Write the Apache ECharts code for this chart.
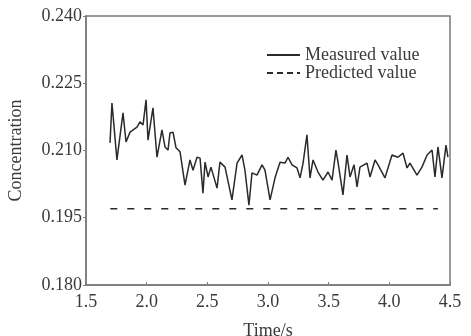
<!DOCTYPE html>
<html>
<head>
<meta charset="utf-8">
<script src="https://cdn.jsdelivr.net/npm/echarts@6/dist/echarts.min.js"></script>
<style>
  html, body { margin: 0; padding: 0; background: #fff; }
  #chart { width: 471px; height: 336px; }
</style>
</head>
<body>
<div id="chart"></div>
<script>
// measured concentration, [time, value]
const measuredTime = [
  1.698, 1.714, 1.755, 1.805, 1.830, 1.863, 1.920, 1.945, 1.970, 1.995,
  2.011, 2.052, 2.085, 2.126, 2.151, 2.176, 2.192, 2.217, 2.242, 2.275,
  2.316, 2.357, 2.382, 2.415, 2.440, 2.464, 2.481, 2.506, 2.530, 2.580,
  2.604, 2.646, 2.703, 2.745, 2.786, 2.810, 2.843, 2.868, 2.909, 2.951,
  2.975, 3.017, 3.058, 3.099, 3.140, 3.165, 3.198, 3.239, 3.264, 3.289,
  3.321, 3.346, 3.371, 3.412, 3.453, 3.495, 3.528, 3.560, 3.577, 3.618,
  3.651, 3.676, 3.709, 3.734, 3.758, 3.816, 3.841, 3.882, 3.907, 3.964,
  4.022, 4.071, 4.113, 4.146, 4.170, 4.228, 4.269, 4.311, 4.352, 4.376,
  4.401, 4.434, 4.467, 4.483
];
const measuredValue = [
  0.2117, 0.2206, 0.2079, 0.2184, 0.2119, 0.2141, 0.2152, 0.2164, 0.2157, 0.2213,
  0.2123, 0.2195, 0.2085, 0.2146, 0.2108, 0.2101, 0.2139, 0.2141, 0.2106, 0.2097,
  0.2023, 0.2079, 0.2056, 0.2085, 0.2083, 0.2005, 0.2074, 0.2041, 0.2063, 0.2016,
  0.2074, 0.2063, 0.1990, 0.2072, 0.2090, 0.2056, 0.1978, 0.2050, 0.2045, 0.2068,
  0.2056, 0.1990, 0.2039, 0.2074, 0.2072, 0.2085, 0.2068, 0.2061, 0.2039, 0.2072,
  0.2135, 0.2039, 0.2079, 0.2052, 0.2034, 0.2052, 0.2034, 0.2101, 0.2074, 0.2001,
  0.2090, 0.2041, 0.2068, 0.2019, 0.2063, 0.2072, 0.2041, 0.2079, 0.2068, 0.2039,
  0.2090, 0.2085, 0.2094, 0.2061, 0.2072, 0.2045, 0.2063, 0.2090, 0.2101, 0.2041,
  0.2108, 0.2039, 0.2112, 0.2085
];

// predicted value is a flat line
const predictedTime = [1.70, 4.40];
const predictedValue = [0.197, 0.197];

const seriesNames = ["Measured value", "Predicted value"];

const font = "Liberation Serif";
const axisGrey = "#7a7a7a";
const textColor = "#3a3a3a";
const fs = 18;

var chart = echarts.init(document.getElementById("chart"));

var option = {
  animation: false,
  textStyle: { fontFamily: font },
  grid: {
    left: 86,
    right: 21,
    top: 16,
    bottom: 51,
    outerBoundsMode: "none",
    containLabel: false,
    show: true,
    borderColor: axisGrey,
    borderWidth: 1.5,
  },
  legend: {
    orient: "vertical",
    left: 261,
    top: 41,
    itemWidth: 33,
    itemHeight: 10,
    itemGap: 0,
    itemStyle: { opacity: 0 },
    textStyle: { fontFamily: font, fontSize: fs, color: textColor },
    data: [
      { name: seriesNames[0] },
      { name: seriesNames[1], lineStyle: { type: [6, 4] } },
    ],
  },
  xAxis: {
    type: "value",
    min: 1.5,
    max: 4.5,
    interval: 0.5,
    name: "Time/s",
    nameLocation: "middle",
    nameGap: 37,
    nameTextStyle: { fontFamily: font, fontSize: fs, color: textColor },
    axisLine: { lineStyle: { color: axisGrey, width: 1.5 } },
    axisTick: { inside: true, length: 3, lineStyle: { color: axisGrey } },
    axisLabel: {
      fontFamily: font,
      fontSize: fs,
      color: textColor,
      margin: 8,
      formatter: (v) => v.toFixed(1),
    },
    splitLine: { show: false },
  },
  yAxis: {
    type: "value",
    min: 0.18,
    max: 0.24,
    interval: 0.015,
    name: "Concentration",
    nameLocation: "middle",
    nameGap: 61,
    nameTextStyle: { fontFamily: font, fontSize: fs, color: textColor },
    axisLine: { lineStyle: { color: axisGrey, width: 1.5 } },
    axisTick: { inside: false, length: 3, lineStyle: { color: axisGrey } },
    axisLabel: {
      fontFamily: font,
      fontSize: fs,
      color: textColor,
      margin: 4,
      formatter: (v) => v.toFixed(3),
    },
    splitLine: { show: false },
  },
  series: [
    {
      name: seriesNames[0],
      type: "line",
      showSymbol: false,
      data: measuredTime.map((t, i) => [t, measuredValue[i]]),
      lineStyle: { color: "#2a2a2a", width: 1.5 },
      itemStyle: { color: "#2a2a2a" },
    },
    {
      name: seriesNames[1],
      type: "line",
      showSymbol: false,
      data: predictedTime.map((t, i) => [t, predictedValue[i]]),
      lineStyle: { color: "#2a2a2a", width: 1.5, type: [7, 10] },
      itemStyle: { color: "#2a2a2a" },
    },
  ],
};

option && chart.setOption(option);
</script>
</body>
</html>
